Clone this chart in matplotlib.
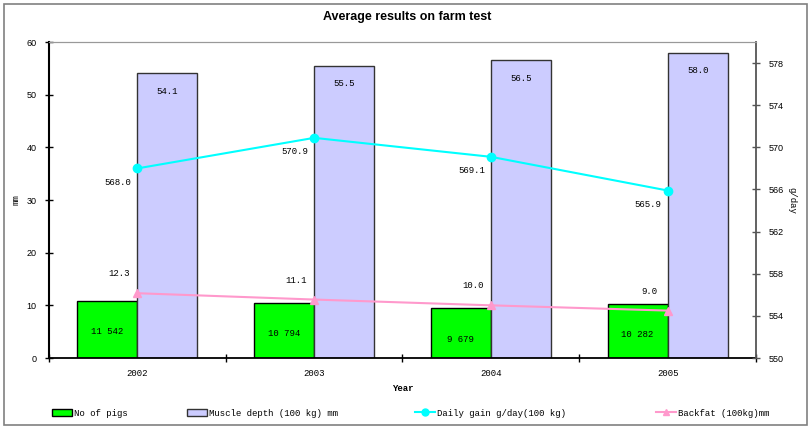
import matplotlib
matplotlib.use("Agg")
import matplotlib.pyplot as plt
from matplotlib.patches import Rectangle
from matplotlib.lines import Line2D

years = ["2002", "2003", "2004", "2005"]
pigs_labels = ["11 542", "10 794", "9 679", "10 282"]
pigs_bar_mm = [10.9, 10.4, 9.4, 10.2]          # bar heights as drawn on mm axis
muscle_depth = [54.1, 55.5, 56.5, 58.0]
daily_gain = [568.0, 570.9, 569.1, 565.9]
backfat = [12.3, 11.1, 10.0, 9.0]

MONO = ["Liberation Mono", "DejaVu Sans Mono"]
SANS = ["Liberation Sans", "DejaVu Sans"]

fig = plt.figure(figsize=(8.10, 4.28), dpi=100)
fig.patch.set_facecolor("white")
fig.patches.append(Rectangle((4/810, 3/428), 803/810, 421/428, transform=fig.transFigure,
                             fill=False, edgecolor="#808080", linewidth=1.2))

ax = fig.add_axes([49/810, 1-358/428, (756-49)/810, (358-42)/428])
ax2 = ax.twinx()

x = list(range(len(years)))
centers = [i + 0.5 for i in x]
bw = 0.34
ax.bar([c - bw for c in centers], pigs_bar_mm, width=bw, align="edge",
       color="#00FF00", edgecolor="black", linewidth=1.0, zorder=2)
ax.bar(centers, muscle_depth, width=bw, align="edge",
       color="#CCCCFF", edgecolor="#333333", linewidth=1.0, zorder=2)
ax.plot(centers, backfat, color="#FF99CC", linewidth=1.5, marker="^", markersize=6, zorder=4)
ax2.plot(centers, daily_gain, color="#00FFFF", linewidth=1.5, marker="o", markersize=6, zorder=4)

for c, lab, h in zip(centers, pigs_labels, pigs_bar_mm):
    ax.annotate(lab, (c - bw/2, h), xytext=(0, -22), textcoords="offset points",
                ha="center", va="center", fontsize=6.5, family=MONO)
for c, v in zip(centers, muscle_depth):
    ax.annotate(f"{v:.1f}", (c + bw/2, v), xytext=(0, -13), textcoords="offset points",
                ha="center", va="center", fontsize=6.5, family=MONO)
for c, v in zip(centers, backfat):
    ax.annotate(f"{v:.1f}", (c, v), xytext=(-13, 14), textcoords="offset points",
                ha="center", va="center", fontsize=6.5, family=MONO)
for c, v in zip(centers, daily_gain):
    ax2.annotate(f"{v:.1f}", (c, v), xytext=(-14, -10), textcoords="offset points",
                 ha="center", va="center", fontsize=6.5, family=MONO)

ax.set_xlim(0, 4)
ax.set_ylim(0, 60)
ax.set_yticks(range(0, 61, 10))
ax2.set_ylim(550, 580)
ax2.set_yticks(range(550, 579, 4))

ax.set_xticks([0, 1, 2, 3, 4])
ax.set_xticklabels([])
ax.set_xticks(centers, minor=True)
ax.set_xticklabels(years, minor=True, fontsize=6.5, family=MONO)
ax.tick_params(axis="x", which="minor", length=0, pad=8)
ax.tick_params(axis="x", which="major", direction="inout", length=6, width=1)
ax.tick_params(axis="y", direction="inout", length=6, width=1, labelsize=6.5, pad=6)
ax2.tick_params(axis="y", direction="inout", length=6, width=1, labelsize=6.5, pad=6,
                color="#555555")
for lab in ax.get_yticklabels() + ax2.get_yticklabels():
    lab.set_family(SANS)

ax.set_ylabel("mm", fontsize=6.5, family=MONO, labelpad=4)
ax2.set_ylabel("g/day", fontsize=6.5, family=MONO, rotation=-90, labelpad=9)
ax.set_xlabel("Year", fontsize=6.5, family=MONO, labelpad=4, fontweight="bold")

ax.spines["left"].set_color("black")
ax.spines["left"].set_linewidth(1.5)
ax.spines["bottom"].set_color("black")
ax.spines["bottom"].set_linewidth(1.3)
ax.spines["top"].set_color("#999999")
ax.spines["right"].set_visible(False)
ax2.spines["left"].set_visible(False)
ax2.spines["bottom"].set_visible(False)
ax2.spines["top"].set_color("#999999")
ax2.spines["right"].set_color("#555555")
ax2.spines["right"].set_linewidth(1.3)

fig.text(0.503, 1-17/428, "Average results on farm test", ha="center", va="center",
         fontsize=9, fontweight="bold", family=SANS)

handles = [
    Rectangle((0, 0), 1, 1, facecolor="#00FF00", edgecolor="black"),
    Rectangle((0, 0), 1, 1, facecolor="#CCCCFF", edgecolor="#333333"),
    Line2D([], [], color="#00FFFF", marker="o", markersize=5, linewidth=1.5),
    Line2D([], [], color="#FF99CC", marker="^", markersize=5, linewidth=1.5),
]
labels = ["No of pigs", "Muscle depth (100 kg) mm", "Daily gain g/day(100 kg)", "Backfat (100kg)mm"]
xs = [58, 193, 421, 662]
for h, l, xp in zip(handles, labels, xs):
    leg = fig.legend([h], [l], loc="center left", bbox_to_anchor=(xp/810 - 0.012, 1-413/428),
                     frameon=False, prop={"family": MONO, "size": 6.5},
                     handlelength=2.2, handletextpad=0.3, borderaxespad=0)

fig.savefig("out.png", dpi=100)
